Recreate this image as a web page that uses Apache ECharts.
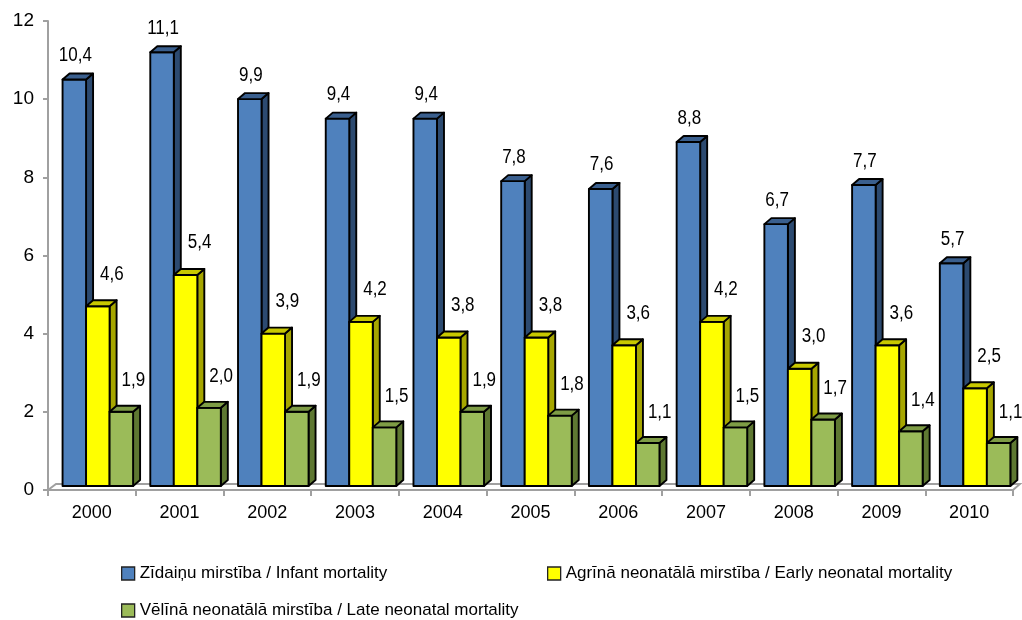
<!DOCTYPE html>
<html>
<head>
<meta charset="utf-8">
<script src="https://cdn.jsdelivr.net/npm/echarts@6/dist/echarts.min.js"></script>
<style>html,body{margin:0;padding:0;background:#fff;}#c{width:1022px;height:620px;}</style>
</head>
<body>
<div id="c"></div>
<script>
var years = ['2000','2001','2002','2003','2004','2005','2006','2007','2008','2009','2010'];
var infant = [10.4, 11.1, 9.9, 9.4, 9.4, 7.8, 7.6, 8.8, 6.7, 7.7, 5.7];
var early = [4.6, 5.4, 3.9, 4.2, 3.8, 3.8, 3.6, 4.2, 3.0, 3.6, 2.5];
var late = [1.9, 2.0, 1.9, 1.5, 1.9, 1.8, 1.1, 1.5, 1.7, 1.4, 1.1];
var yTicks = [0, 2, 4, 6, 8, 10, 12];
var names = [
  'Zīdaiņu mirstība / Infant mortality',
  'Agrīnā neonatālā mirstība / Early neonatal mortality',
  'Vēlīnā neonatālā mirstība / Late neonatal mortality'
];
var FONT = 'Liberation Sans, Arial, sans-serif';
var styles = [
  {front: '#4F81BD', top: '#3A5F8E', side: '#2C4A70', lx: 1, gap: 8},
  {front: '#FFFF00', top: '#C8C800', side: '#A6A600', lx: 14, gap: 16},
  {front: '#9BBB59', top: '#7E9C45', side: '#5E7832', lx: 12, gap: 15}
];

function fmt(v) { return v.toFixed(1).replace('.', ','); }

function makeRender(k) {
  return function (params, api) {
    var i = api.value(0), v = api.value(1);
    var base = api.coord([i, 0]);
    var top = api.coord([i, v]);
    var catW = api.size([1, 0])[0];
    var w = catW * 0.268;
    var x0 = base[0] - 0.334 * catW + k * w;
    var yb = base[1] - 4, yt = top[1] - 4;
    var dx = 7, dy = -6;
    var s = styles[k];
    var ls = {stroke: '#000', lineWidth: 1.9, lineJoin: 'round'};
    return {
      type: 'group',
      children: [
        {type: 'polygon', shape: {points: [[x0 + w, yt], [x0 + w + dx, yt + dy], [x0 + w + dx, yb + dy], [x0 + w, yb]]},
          style: Object.assign({fill: s.side}, ls)},
        {type: 'rect', shape: {x: x0, y: yt, width: w, height: yb - yt},
          style: Object.assign({fill: s.front}, ls)},
        {type: 'polygon', shape: {points: [[x0, yt], [x0 + w, yt], [x0 + w + dx, yt + dy], [x0 + dx, yt + dy]]},
          style: Object.assign({fill: s.top}, ls)},
        {type: 'text', x: x0 + w / 2 + s.lx, y: yt + dy - s.gap, scaleX: 0.85, z2: 10,
          style: {text: fmt(v), x: 0, y: 0, fill: '#000', font: '20px ' + FONT, align: 'center', verticalAlign: 'bottom'}}
      ]
    };
  };
}

function seriesData(arr) { return arr.map(function (v, i) { return [i, v]; }); }

var chart = echarts.init(document.getElementById('c'), null, {renderer: 'canvas'});
var legendBase = {
  icon: 'rect', itemWidth: 13, itemHeight: 13,
  itemStyle: {borderColor: '#222', borderWidth: 1.3},
  textStyle: {fontSize: 17, color: '#000', fontFamily: FONT},
  selectedMode: false
};
chart.setOption({
  animation: false,
  backgroundColor: '#fff',
  grid: {left: 48, right: 9, top: 21, bottom: 130, containLabel: false},
  legend: [
    Object.assign({data: [names[0]], left: 116, top: 560}, legendBase),
    Object.assign({data: [names[1]], left: 542, top: 560}, legendBase),
    Object.assign({data: [names[2]], left: 116, top: 597}, legendBase)
  ],
  xAxis: {
    type: 'category', data: years,
    axisLine: {lineStyle: {color: '#A0A0A0', width: 2}},
    axisTick: {show: true, length: 6, lineStyle: {color: '#A0A0A0', width: 2}},
    axisLabel: {color: '#000', fontSize: 18, fontFamily: FONT, margin: 14},
    splitLine: {show: false}
  },
  yAxis: {
    type: 'value', min: 0, max: 12, interval: 2,
    axisLine: {show: true, lineStyle: {color: '#A0A0A0', width: 2}},
    axisTick: {show: true, length: 5, lineStyle: {color: '#A0A0A0', width: 2}},
    axisLabel: {color: '#000', fontSize: 19, fontFamily: FONT, margin: 14,
      formatter: function (v) { return yTicks.indexOf(v) >= 0 ? String(v) : ''; }},
    splitLine: {show: false}
  },
  graphic: [
    {type: 'polyline', z: 0, silent: true,
      shape: {points: [[48, 490], [56, 484], [1020, 484], [1013, 490]]},
      style: {stroke: '#A0A0A0', lineWidth: 2, fill: null}}
  ],
  series: [0, 1, 2].map(function (k) {
    return {
      type: 'custom', name: names[k],
      itemStyle: {color: styles[k].front},
      renderItem: makeRender(k),
      encode: {x: 0, y: 1},
      data: seriesData([infant, early, late][k]),
      z: 2 + k
    };
  })
});
</script>
</body>
</html>
